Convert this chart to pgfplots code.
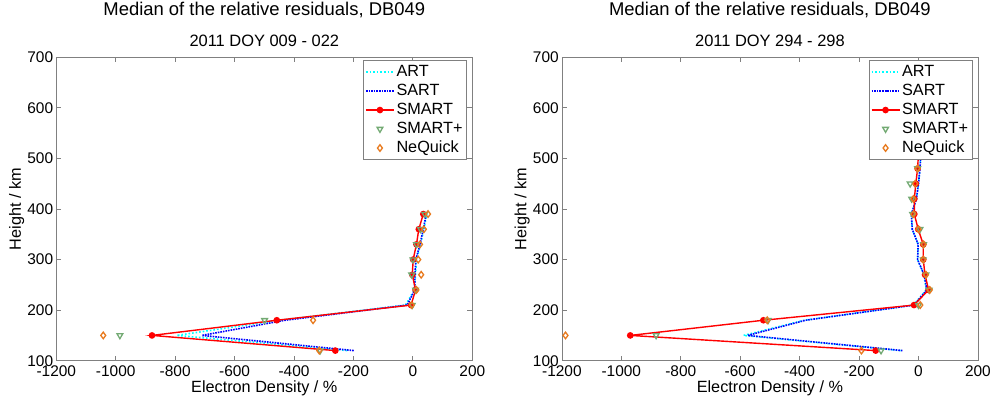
\documentclass[border=0pt]{standalone}
\usepackage{fontspec}
\setmainfont{Liberation Sans}
\usepackage{pgfplots}
\pgfplotsset{compat=1.18}
\definecolor{artc}{RGB}{0,255,255}
\definecolor{sartc}{RGB}{0,0,255}
\definecolor{smartc}{RGB}{255,0,0}
\definecolor{plusc}{RGB}{115,170,115}
\definecolor{neqc}{RGB}{232,122,30}
\definecolor{axgray}{RGB}{128,128,128}
\pgfplotsset{
 myaxis/.style={
  scale only axis, width=416bp, height=303.4bp,
  xmin=-1200, xmax=200, ymin=100, ymax=700,
  xtick={-1200,-1000,...,200}, ytick={100,200,...,700},
  tick align=inside, xtick pos=both, ytick pos=both,
  major tick length=5bp,
  axis line style={draw=axgray, line width=0.8bp},
  major tick style={draw=axgray, line width=0.8bp},
  /pgf/number format/assume math mode=true,
  /pgf/number format/1000 sep={},
  tick label style={font=\fontsize{15.5}{18}\selectfont},
  x tick label style={anchor=base, yshift=-16bp},
  y tick label style={anchor=east, inner sep=0pt, xshift=-3bp},
  xlabel={Electron Density / \%}, ylabel={Height / km},
  xlabel style={at={([yshift=-31.3bp]axis description cs:0.5,0)}, anchor=base, font=\fontsize{16.3}{19}\selectfont},
  ylabel style={at={([xshift=-35.5bp]axis description cs:0,0.5)}, anchor=base, rotate=0, font=\fontsize{16.3}{19}\selectfont},
  title style={at={([yshift=36.3bp]axis description cs:0.5,1)}, anchor=base, font=\fontsize{18.5}{21}\selectfont},
  legend style={at={(0.986,0.99)}, anchor=north east, draw=axgray, fill=white,
    font=\fontsize{16.3}{19}\selectfont, row sep=0bp, inner xsep=2bp, inner ysep=2bp,
    nodes={text height=12bp, text depth=3.5bp, inner sep=1.75bp}},
  legend cell align=left,
  legend image code/.code={\draw[mark repeat=2,mark phase=2] plot coordinates {(0bp,0bp) (14bp,0bp) (28bp,0bp)};},
  clip mode=individual,
 },
 artst/.style={color=artc, line width=1.6bp, dotted, no marks},
 sartst/.style={color=sartc, line width=1.6bp, densely dotted, no marks},
 smartst/.style={color=smartc, line width=1.4bp, mark=*, mark size=2.6bp, mark options={solid}},
 plusst/.style={color=plusc, only marks, mark=triangle, mark size=3.3bp, mark options={rotate=180, line width=1.3bp}},
 neqst/.style={color=neqc, only marks, mark=diamond, mark size=3.3bp, mark options={line width=1.3bp}},
}
\begin{document}
\begin{tikzpicture}[x=1bp,y=1bp]
\path[use as bounding box] (0,0) rectangle (991,401);
\begin{axis}[myaxis, at={(56.3bp,40.3bp)}, anchor=south west,
  title={Median of the relative residuals, DB049}]
\addplot[artst] coordinates {(-221,120) (-795,150) (-450,180) (-25,210) (5,240) (9,270) (12,300) (26,330) (37,360) (47,390)};
\addlegendentry{ART}
\addplot[sartst] coordinates {(-199,120) (-710,150) (-430,180) (-19,210) (6,240) (7,270) (10,300) (24,330) (35,360) (45,390)};
\addlegendentry{SART}
\addplot[smartst] coordinates {(-261,120) (-878,150) (-458,180) (-6,210) (9,240) (-2,270) (1,300) (12,330) (20,360) (35,390)};
\addlegendentry{SMART}
\addplot[plusst] coordinates {(-312,120) (-986,150) (-499,180) (-2,210) (9,240) (-4,270) (0,300) (12,330) (26,360) (40,390)};
\addlegendentry{SMART+}
\addplot[neqst] coordinates {(-315,120) (-1042,150) (-336,180) (-4,210) (12,240) (28,270) (18,300) (24,330) (37,360) (51,390)};
\addlegendentry{NeQuick}
\node[anchor=base, font=\fontsize{16.5}{19}\selectfont] at ([yshift=11bp]rel axis cs:0.5,1) {2011 DOY 009 - 022};
\end{axis}
\begin{axis}[myaxis, at={(561.9bp,40.3bp)}, anchor=south west,
  title={Median of the relative residuals, DB049}]
\addplot[artst] coordinates {(-60,120) (-589,150) (-385,180) (-17,210) (26,240) (18,270) (-3,300) (-1,330) (-21,360) (-24,390) (-7,420) (0,450) (5,480) (8,510)};
\addlegendentry{ART}
\addplot[sartst] coordinates {(-54,120) (-575,150) (-380,180) (-15,210) (28,240) (19,270) (-3,300) (-1,330) (-21,360) (-24,390) (-7,420) (0,450) (5,480) (8,510)};
\addlegendentry{SART}
\addplot[smartst] coordinates {(-144,120) (-970,150) (-522,180) (-15,210) (34,240) (22,270) (16,300) (16,330) (-1,360) (-14,390) (-14,420) (-9,450) (-3,480) (0,510)};
\addlegendentry{SMART}
\addplot[plusst] coordinates {(-126,120) (-883,150) (-506,180) (0,210) (36,240) (25,270) (16,300) (17,330) (5,360) (-20,390) (-23,420) (-28,450) (-3,480)};
\addlegendentry{SMART+}
\addplot[neqst] coordinates {(-192,120) (-1188,150) (-509,180) (6,210) (38,240) (25,270) (16,300) (17,330) (0,360) (-17,390) (-17,420) (-11,450) (-3,480)};
\addlegendentry{NeQuick}
\node[anchor=base, font=\fontsize{16.5}{19}\selectfont] at ([yshift=11bp]rel axis cs:0.5,1) {2011 DOY 294 - 298};
\end{axis}
\end{tikzpicture}
\end{document}
